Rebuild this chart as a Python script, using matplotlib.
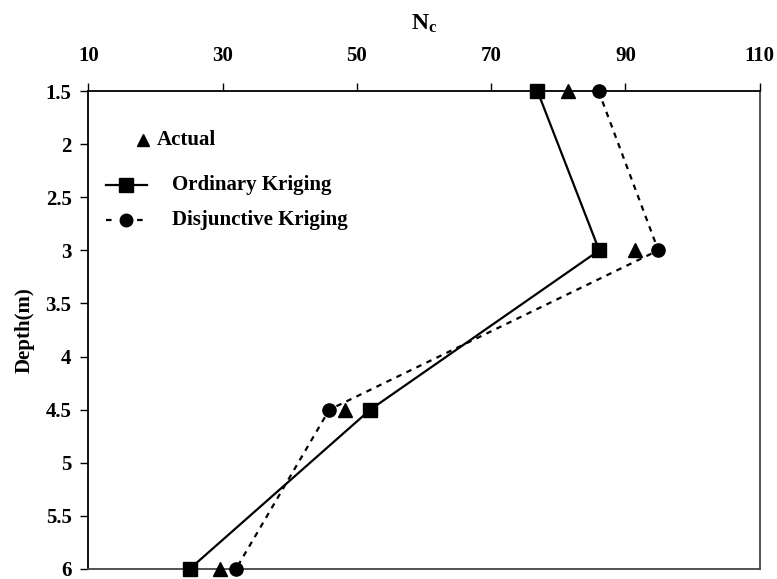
import matplotlib
matplotlib.use("Agg")
import matplotlib.pyplot as plt
from matplotlib.lines import Line2D

plt.rcParams["font.family"] = ["Liberation Serif", "DejaVu Serif"]
plt.rcParams["font.weight"] = "bold"
plt.rcParams["mathtext.fontset"] = "custom"
plt.rcParams["mathtext.rm"] = "Liberation Serif"
plt.rcParams["mathtext.bf"] = "Liberation Serif:bold"

depth = [1.5, 3.0, 4.5, 6.0]
actual = [81.5, 91.4, 48.2, 29.6]
ordinary = [76.9, 86.1, 52.0, 25.1]
disjunctive = [86.0, 94.9, 45.9, 32.0]

x_ticks = [10, 30, 50, 70, 90, 110]
y_ticks = [1.5, 2, 2.5, 3, 3.5, 4, 4.5, 5, 5.5, 6]
y_tick_labels = ["1.5", "2", "2.5", "3", "3.5", "4", "4.5", "5", "5.5", "6"]

fig = plt.figure(figsize=(7.77, 5.79), dpi=100)
ax = fig.add_axes([0.1136, 0.0173, 0.9777 - 0.1136, 0.8428 - 0.0173])

ax.plot(ordinary, depth, color="black", lw=1.6, marker="s", ms=10,
        zorder=3, clip_on=False)
ax.plot(disjunctive, depth, color="black", lw=1.6, ls=(0, (2.5, 2.5)),
        marker="o", ms=9.5, zorder=3, clip_on=False)
ax.plot(actual, depth, ls="none", color="black", marker="^", ms=9.5,
        zorder=4, clip_on=False)

ax.set_xlim(10, 110)
ax.set_ylim(6, 1.5)
ax.xaxis.tick_top()
ax.xaxis.set_label_position("top")
ax.set_xticks(x_ticks)
ax.set_xticklabels([str(v) for v in x_ticks])
ax.set_yticks(y_ticks)
ax.set_yticklabels(y_tick_labels)
ax.tick_params(axis="both", direction="out", length=6, width=1,
               labelsize=15, pad=6)
ax.tick_params(axis="x", pad=12)

for side in ["left", "top"]:
    ax.spines[side].set_linewidth(1.3)
for side in ["right", "bottom"]:
    ax.spines[side].set_linewidth(1.3)
    ax.spines[side].set_color("#444444")

ax.set_xlabel(r"$\mathbf{N_c}$", fontsize=17, labelpad=12)
ax.set_ylabel("Depth(m)", fontsize=15, fontweight="bold", labelpad=8)

# legend built by hand in axes coordinates
tr = ax.transAxes
def ax_xy(px, py):
    x0, x1 = 88.3, 759.7
    y0, y1 = 91.0, 569.0
    return (px - x0) / (x1 - x0), (y1 - py) / (y1 - y0)

ax.add_line(Line2D(*zip(ax_xy(143, 140)), transform=tr, ls="none",
                   marker="^", ms=9, color="black"))
tx, ty = ax_xy(157, 140)
ax.text(tx, ty, "Actual", transform=tr, fontsize=15, fontweight="bold",
        va="center", ha="left")

p1, p2 = ax_xy(106, 185), ax_xy(147, 185)
ax.add_line(Line2D([p1[0], p2[0]], [p1[1], p2[1]], transform=tr,
                   color="black", lw=1.6))
ax.add_line(Line2D(*zip(ax_xy(126, 185)), transform=tr, ls="none",
                   marker="s", ms=10, color="black"))
tx, ty = ax_xy(172, 185)
ax.text(tx, ty, "Ordinary Kriging", transform=tr, fontsize=15,
        fontweight="bold", va="center", ha="left")

p1, p2 = ax_xy(106, 220), ax_xy(147, 220)
ax.add_line(Line2D([p1[0], p2[0]], [p1[1], p2[1]], transform=tr,
                   color="black", lw=1.6, ls=(0, (2.5, 4.5))))
ax.add_line(Line2D(*zip(ax_xy(126, 220)), transform=tr, ls="none",
                   marker="o", ms=9, color="black"))
tx, ty = ax_xy(172, 220)
ax.text(tx, ty, "Disjunctive Kriging", transform=tr, fontsize=15,
        fontweight="bold", va="center", ha="left")

fig.savefig("out.png", dpi=100)
